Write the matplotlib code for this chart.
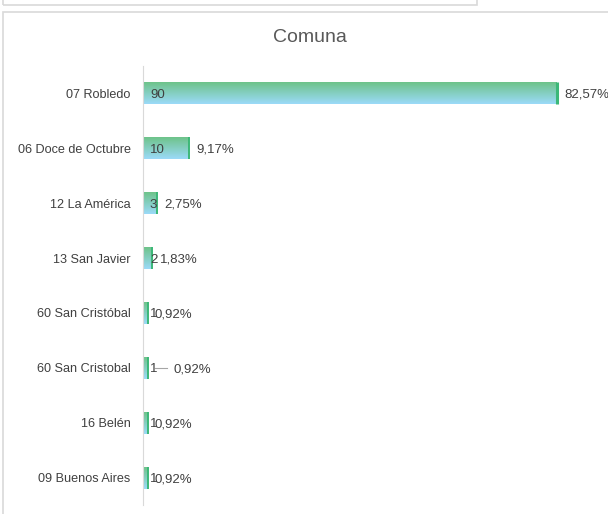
import numpy as np
import matplotlib.pyplot as plt
from matplotlib.patches import Rectangle

plt.rcParams['font.family'] = ['Liberation Sans', 'DejaVu Sans']

categories = ['07 Robledo', '06 Doce de Octubre', '12 La América', '13 San Javier',
              '60 San Cristóbal', '60 San Cristobal', '16 Belén', '09 Buenos Aires']
counts = [90, 10, 3, 2, 1, 1, 1, 1]
total = sum(counts)

fig = plt.figure(figsize=(6.08, 5.14), dpi=100)

# card outlines
fig.patches.append(Rectangle((3 / 608, -0.05), 1.0, 1 - 12 / 514 + 0.05, transform=fig.transFigure,
                             fill=False, edgecolor='#d9d9d9', linewidth=1.2))
fig.patches.append(Rectangle((3 / 608, 1 - 5 / 514), 474 / 608, 0.05, transform=fig.transFigure,
                             fill=False, edgecolor='#d9d9d9', linewidth=1.2))

ax = fig.add_axes([143 / 608, 1 - 505 / 514, 460 / 608, 439 / 514])
ax.set_xlim(0, 100)
ax.set_ylim(len(categories) - 0.5, -0.5)

grad = np.linspace(0, 1, 64).reshape(-1, 1)
top = np.array([110, 195, 138]) / 255
bottom = np.array([155, 218, 248]) / 255
img = top + (bottom - top) * grad[..., None]
img = img.reshape(64, 1, 3)

h = 0.4
lbl = dict(va='center_baseline', ha='left', fontsize=9.5, color='#404040', zorder=4)
for i, (c, n) in enumerate(zip(categories, counts)):
    ax.imshow(img, extent=(0, n, i + h / 2, i - h / 2), aspect='auto', zorder=2, interpolation='bilinear')
    ax.plot([n, n], [i - h / 2, i + h / 2], color='#3cb878', linewidth=2.2 if n > 50 else 1.4,
            zorder=3, solid_capstyle='butt')
    pct = f'{n / total * 100:.2f}%'.replace('.', ',')
    ax.text(1.5, i, str(n), **lbl)
    if c == '60 San Cristobal':
        ax.plot([2.6, 5.3], [i, i], color='#a6a6a6', linewidth=0.8, zorder=3)
        ax.text(6.6, i, pct, **lbl)
    else:
        ax.text(n + 1.6, i, pct, **lbl)

ax.set_yticks(range(len(categories)))
ax.set_yticklabels(categories, fontsize=9.1, color='#404040')
ax.tick_params(axis='y', length=0, pad=9)
ax.set_xticks([])
for s in ['top', 'right', 'bottom']:
    ax.spines[s].set_visible(False)
ax.spines['left'].set_color('#d9d9d9')
ax.patch.set_alpha(0)

fig.text(310 / 608, 1 - 37 / 514, 'Comuna', ha='center', va='center', fontsize=14, color='#595959')

plt.savefig('out.png', dpi=100)
